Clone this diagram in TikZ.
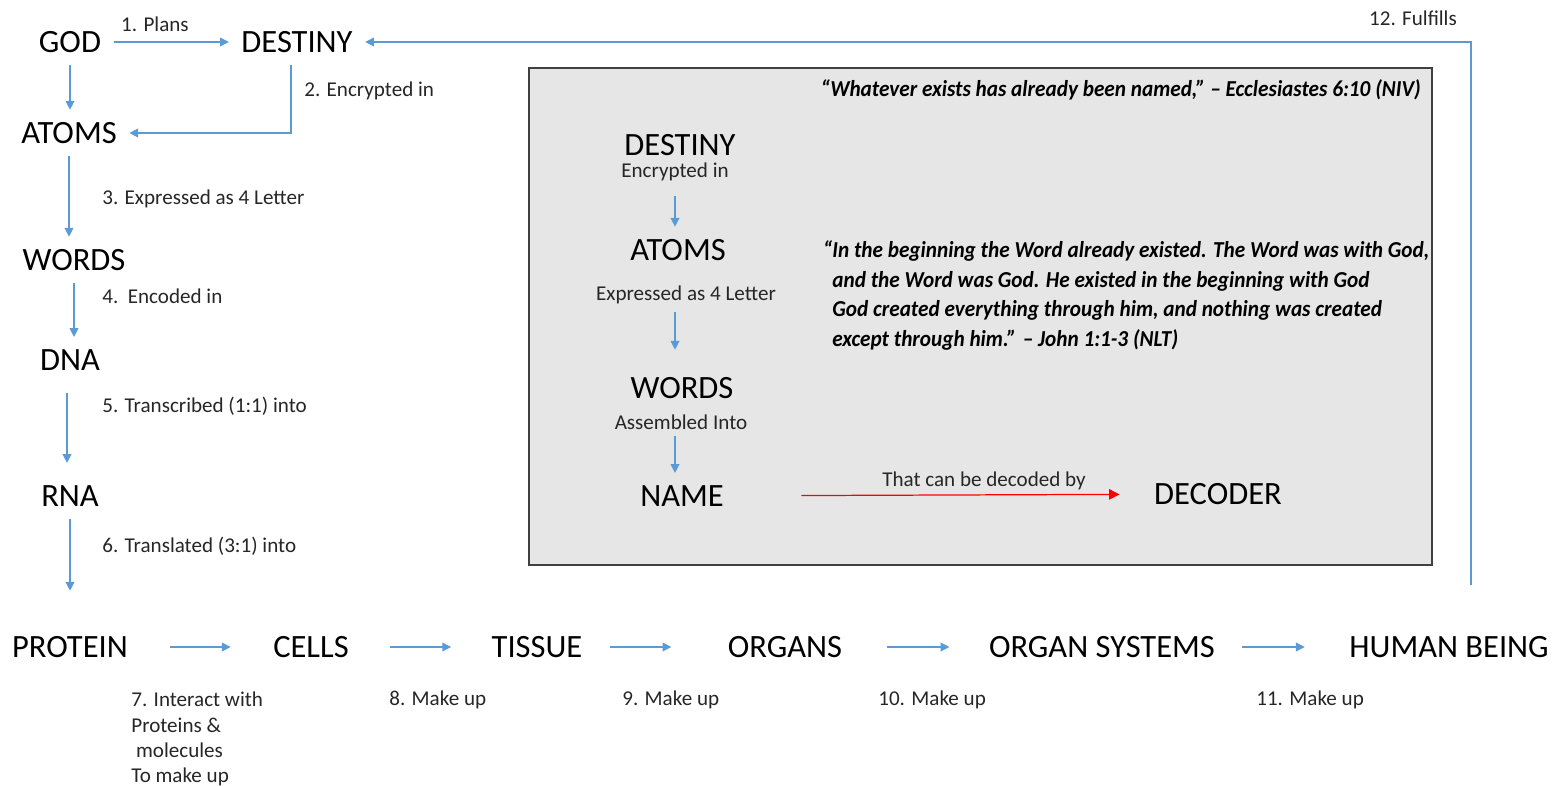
\documentclass[tikz,border=0pt]{standalone}
\usepackage{fontspec}
\setmainfont{Carlito}
\newfontfamily\versefont{Carlito}[FakeStretch=0.93]
\usetikzlibrary{arrows.meta}

\definecolor{flowblue}{HTML}{5B9BD5}
\definecolor{boxgrey}{HTML}{E6E6E6}

\tikzset{
  big/.style={font=\fontsize{18.5}{20}\selectfont, inner sep=7pt},
  lbl/.style={font=\fontsize{12}{14.4}\selectfont, text=black!85, inner sep=0pt},
  flow/.style={draw=flowblue, line width=0.7pt, -{Triangle[length=5pt,width=5pt]}},
  decode/.style={draw=red, line width=0.7pt, -{Triangle[length=6pt,width=6pt]}},
  verse/.style={font=\versefont\bfseries\itshape\fontsize{13}{17}\selectfont, inner sep=0pt, align=left},
}

\begin{document}
\begin{tikzpicture}[x=0.02cm,y=-0.02cm]
\useasboundingbox (0,0) rectangle (1558,786);

% grey panel
\draw[draw=black!75, fill=boxgrey, line width=0.8pt] (529,68) rectangle (1432,565);

% left column
\node[big] (god) at (70,42) {GOD};
\node[big] (destiny) at (297,42) {DESTINY};
\node[big] (atoms) at (69,133) {ATOMS};
\node[big] (words) at (74,260) {WORDS};
\node[big] (dna) at (70,360) {DNA};
\node[big] (rna) at (70,496) {RNA};

% bottom row
\foreach \name/\x/\txt in {protein/70/PROTEIN, cells/311/CELLS, tissue/537/TISSUE,
    organs/785/ORGANS, systems/1102/ORGAN SYSTEMS, human/1449/HUMAN BEING}
  \node[big] (\name) at (\x,647) {\txt};

\foreach \a/\b/\s/\e in {protein/cells/0.6/0.6, cells/tissue/0.58/0.56,
    tissue/organs/0.3/0.88, organs/systems/0.64/0.54, systems/human/0.28/0.64}
  \draw[flow, shorten <=\s cm, shorten >=\e cm] (\a) -- (\b);

% steps down the left
\draw[flow] (god) -- (destiny);
\draw[flow] (god) -- (god |- atoms.north);
\draw[flow] ([xshift=-0.12cm]destiny.south) |- (atoms.east);
\draw[flow] (atoms) -- (atoms |- words.north);
\draw[flow] (words) -- (words |- dna.north);
\draw[flow, shorten <=0.2cm, shorten >=0.2cm] ([xshift=-0.06cm]dna.south) -- ([xshift=-0.06cm]dna.south |- rna.north);
\draw[flow, shorten >=0.66cm] (rna) -- (rna |- protein.north);

\coordinate (fulfil) at (1471,585);
\draw[flow] (fulfil) |- (destiny.east);

% step labels
\node[lbl] (l1) at (155,24) {1. Plans};
\node[lbl, anchor=west] (l2) at (304,91) {2. Encrypted in};
\node[lbl, anchor=west] (l3) at (102,199) {3. Expressed as 4 Letter};
\node[lbl, anchor=west] (l4) at (102,296) {4.\ \ Encoded in};
\node[lbl, anchor=west] (l5) at (102,406) {5. Transcribed (1:1) into};
\node[lbl, anchor=west] (l6) at (102,546) {6. Translated (3:1) into};
\node[lbl, anchor=north west, align=left] (l7) at (131,692)
  {7. Interact with\\Proteins \&\\\ molecules\\To make up};
\node[lbl, anchor=west] (l8) at (389,700) {8. Make up};
\node[lbl, anchor=west] (l9) at (622,700) {9. Make up};
\node[lbl, anchor=west] (l10) at (878,700) {10. Make up};
\node[lbl, anchor=west] (l11) at (1256,700) {11. Make up};
\node[lbl] (l12) at (1413,18) {12. Fulfills};

% inside the panel
\node[big] (idestiny) at (680,145) {DESTINY};
\node[lbl] (ienc) at (675,172) {Encrypted in};
\node[big] (iatoms) at (678,250) {ATOMS};
\node[lbl] (iexp) at (686,295) {Expressed as 4 Letter};
\node[big] (iwords) at (682,388) {WORDS};
\node[lbl] (iass) at (681,422) {Assembled Into};
\node[big] (name) at (682,496) {NAME};
\node[big] (decoder) at (1218,494) {DECODER};

\draw[flow, shorten <=0.3cm] (ienc.south) -- (ienc.south |- iatoms.north);
\draw[flow, shorten <=0.16cm, shorten >=0.3cm] ([xshift=-0.22cm]iexp.south) -- ([xshift=-0.22cm]iexp.south |- iwords.north);
\draw[flow, shorten <=0.12cm] ([xshift=-0.12cm]iass.south) -- ([xshift=-0.12cm]iass.south |- name.north);

\draw[decode, shorten <=1.3cm, shorten >=0.44cm] (name) -- (decoder);
\node[lbl] (dlbl) at (984,481) {That can be decoded by};

% verses
\node[verse, anchor=east] (eccl) at (1421,90)
  {“Whatever exists has already been named,” – Ecclesiastes 6:10 (NIV)};
\node[verse, anchor=north west] (john) at (832,240)
  {\llap{“}In the beginning the Word already existed. The Word was with God,\\
   and the Word was God. He existed in the beginning with God\\
   God created everything through him, and nothing was created\\
   except through him.” – John 1:1-3 (NLT)};
\end{tikzpicture}
\end{document}
